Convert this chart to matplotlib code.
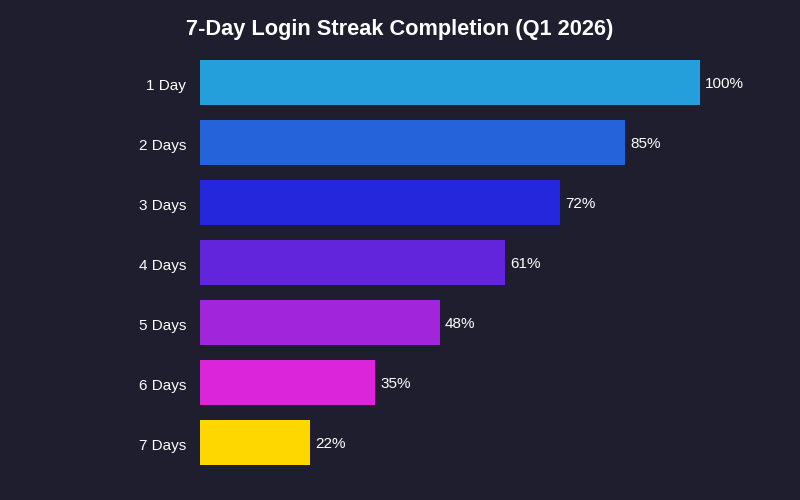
import matplotlib
matplotlib.use("Agg")
import matplotlib.pyplot as plt

categories = ["1 Day", "2 Days", "3 Days", "4 Days", "5 Days", "6 Days", "7 Days"]
values = [100, 85, 72, 61, 48, 35, 22]
colors = ["#259fdb", "#2563db", "#2427db", "#6325db", "#a025db", "#db25db", "#ffd700"]

plt.rcParams['font.family'] = ['Liberation Sans', 'DejaVu Sans']
bg = "#1e1e2e"
fig = plt.figure(figsize=(8, 5), dpi=100, facecolor=bg)
ax = fig.add_axes([0.25, 0.056, 0.625, 0.84], facecolor=bg)
y = list(range(len(categories)))
ax.barh(y, values, height=0.75, color=colors)
for yi, v in zip(y, values):
    ax.text(v + 1, yi + 0.04, f"{v}%", va="center", ha="left", color="white", fontsize=11)
ax.set_yticks([yi + 0.04 for yi in y])
ax.set_yticklabels(categories, color="white", fontsize=11)
ax.set_ylim(6.5, -0.5)
ax.set_xlim(0, 100)
ax.set_xticks([])
ax.tick_params(axis="y", length=0, pad=10)
for s in ax.spines.values():
    s.set_visible(False)
fig.text(0.5, 0.942, "7-Day Login Streak Completion (Q1 2026)", ha="center", va="center",
         color="white", fontsize=15.7, fontweight="bold")
fig.savefig("out.png", facecolor=bg)
